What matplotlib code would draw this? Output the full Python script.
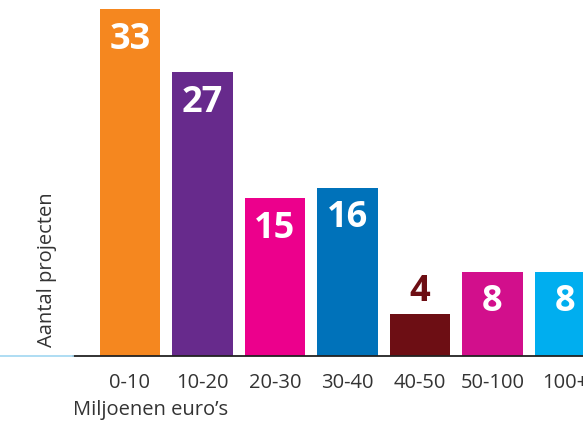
import matplotlib.pyplot as plt
from matplotlib.lines import Line2D

# data
categories = ['0-10', '10-20', '20-30', '30-40', '40-50', '50-100', '100+']
projects = [33, 27, 15, 16, 4, 8, 8]
bar_colors = ['#F5871F', '#672A8C', '#EC008C', '#0072BA', '#6D0E14', '#D20F8C', '#00AEEF']

plt.rcParams['font.family'] = ['Open Sans', 'DejaVu Sans']
text_color = '#333333'

W, H = 583, 425
fig = plt.figure(figsize=(W / 100, H / 100), dpi=100)

# axes: left edge at 73px, baseline at 356px from top
left = 73 / W
bottom = (H - 356) / H
ax = fig.add_axes([left, bottom, 1 - left, 1 - bottom])

x = list(range(len(categories)))
bars = ax.bar(x, projects, width=0.83, color=bar_colors, zorder=2)

ax.set_xlim(-0.786, 6.248)
ax.set_ylim(0, 33.86)

# value labels: white inside the bar, small bars get the label above
for rect, val, col in zip(bars, projects, bar_colors):
    cx = rect.get_x() + rect.get_width() / 2
    if val < 5:
        ax.annotate(str(val), (cx, val), xytext=(0, 3), textcoords='offset points',
                    ha='center', va='bottom', color=col, fontsize=26, fontweight='bold')
    else:
        ax.annotate(str(val), (cx, val), xytext=(0, -9), textcoords='offset points',
                    ha='center', va='top', color='white', fontsize=26, fontweight='bold')

for s in ['top', 'right', 'left']:
    ax.spines[s].set_visible(False)
ax.spines['bottom'].set_color('#222222')
ax.spines['bottom'].set_linewidth(1.3)

ax.set_yticks([])
ax.set_xticks(x)
ax.set_xticklabels(categories, fontsize=14.5, color=text_color)
ax.tick_params(axis='x', length=0, pad=12)

# light blue continuation of the baseline to the left
fig.add_artist(Line2D([0, left], [bottom, bottom], color='#A8DAF2', linewidth=1.3,
                      transform=fig.transFigure))

fig.text(left, (H - 410) / H, 'Miljoenen euro\u2019s', ha='left', va='center',
         fontsize=14.5, color=text_color)
fig.text(47 / W, (H - 270) / H, 'Aantal projecten', rotation=90, ha='center',
         va='center', fontsize=14.5, color=text_color)

fig.savefig('out.png', dpi=100)
